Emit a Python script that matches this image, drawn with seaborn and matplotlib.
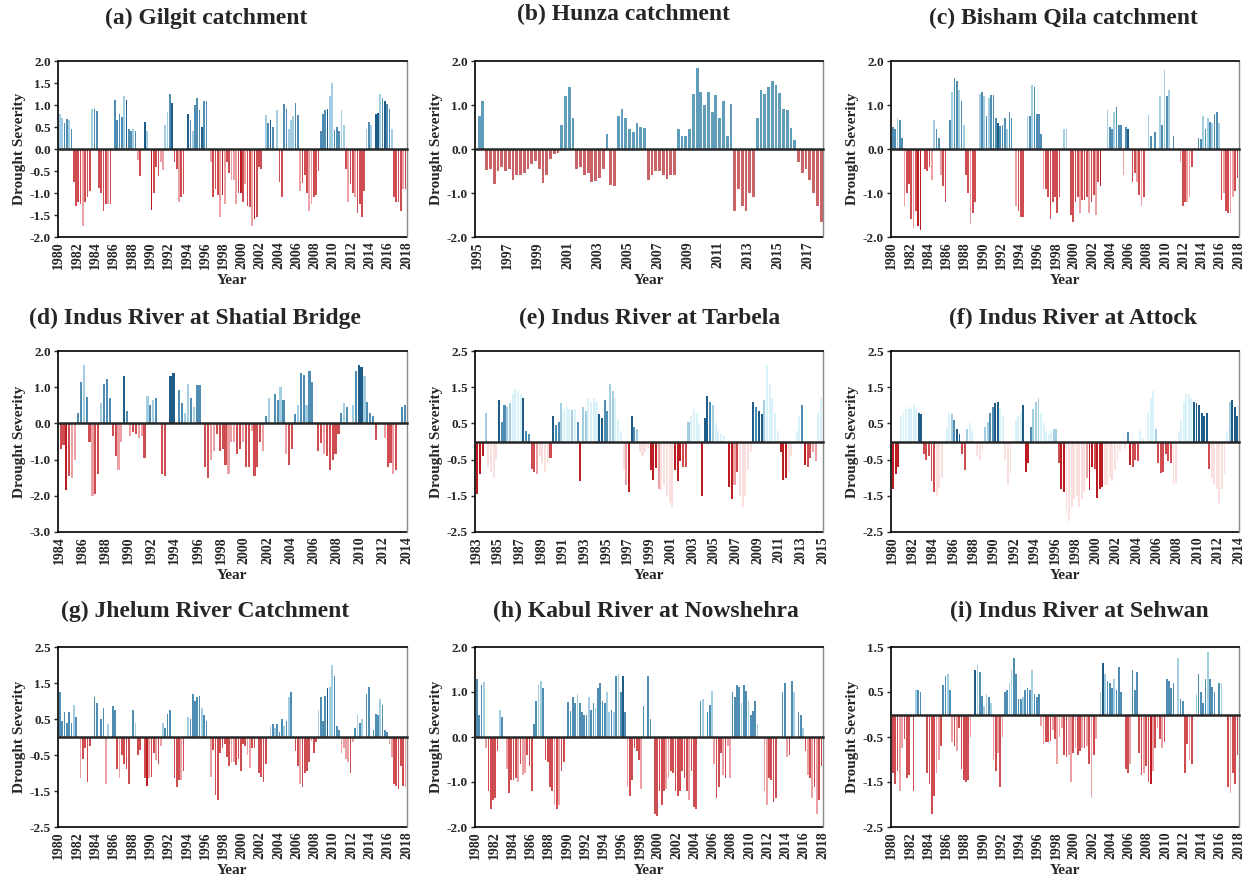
import numpy as np
import pandas as pd
import seaborn as sns
import matplotlib.pyplot as plt

# Quarterly drought severity, one row per year (Q1..Q4).
# Tone strings give the shade class of each bar (1 dark .. 4 very pale), one group per year.

gilgit_sev = [
    [0.80, 0.70, 0.60, 0.68], [0.65, 0.45, -0.75, -1.30], [-1.20, -1.25, -1.75, -1.20], [-1.10, -0.95, 0.90, 0.92],
    [0.87, -0.88, -1.00, -1.40], [-1.25, -1.25, -1.25, 0.00], [1.12, 0.65, 0.80, 0.72], [1.20, 1.12, 0.45, 0.42],
    [0.45, 0.40, -0.25, -0.62], [0.00, 0.62, 0.40, 0.00], [-1.38, -1.00, -0.40, -0.62], [-0.30, -0.48, 0.55, 0.85],
    [1.25, 1.05, -0.30, -0.45], [-1.20, -1.10, -1.02, 0.00], [0.80, 0.65, 0.40, 1.00], [1.15, 0.88, 0.50, 1.08],
    [1.08, 0.00, -0.30, -1.10], [-0.90, -1.05, -1.55, -1.05], [-1.25, -0.30, -0.55, -0.70], [-0.70, -1.25, -1.00, -1.00],
    [-1.20, -0.80, -1.30, -1.32], [-1.75, -1.60, -1.55, -0.40], [-0.45, 0.00, 0.78, 0.60], [0.65, 0.50, 0.00, 0.88],
    [-0.75, -1.10, 1.02, 0.92], [0.45, 0.65, 0.75, 1.05], [0.78, -0.95, -0.78, -0.60], [-1.00, -1.40, -1.25, -1.10],
    [-1.05, -0.50, 0.40, 0.80], [0.88, 0.90, 1.20, 1.50], [0.43, 0.50, 0.40, 0.88], [0.55, -0.45, -1.20, -0.80],
    [-1.00, -1.10, -1.45, -1.25], [-1.55, -0.95, 0.45, 0.62], [0.55, 0.00, 0.80, 0.82], [1.25, 1.15, 1.10, 1.02],
    [0.90, 0.45, -1.10, -1.20], [-1.20, -1.40, -0.90, -0.90],
]
gilgit_tone = ("3322 3222 2232 2232 2222 2322 2222 3122 3232 2132 1222 3333 2122 3222 1232 2212 2232 2231 3223 3321 "
               "2322 3122 2232 1223 2222 3332 2322 2332 2222 2133 2223 3232 2322 2232 3211 3212 2322 2232")

hunza_sev = [
    [0.75, 1.10, -0.48, -0.45], [-0.80, -0.50, -0.40, -0.50], [-0.45, -0.70, -0.60, -0.60], [-0.55, -0.45, -0.35, -0.28],
    [-0.45, -0.78, -0.60, -0.22], [-0.12, -0.10, 0.55, 1.20], [1.40, 0.70, -0.45, -0.40], [-0.60, -0.55, -0.75, -0.72],
    [-0.65, -0.45, 0.35, -0.82], [-0.85, 0.75, 0.90, 0.70], [0.45, 0.38, 0.58, 0.50], [0.48, -0.70, -0.60, -0.50],
    [-0.50, -0.60, -0.68, -0.60], [-0.58, 0.45, 0.30, 0.30], [0.45, 1.25, 1.85, 1.30], [1.00, 1.30, 0.85, 1.22],
    [0.70, 1.10, 0.30, 1.03], [-1.40, -0.90, -1.30, -1.40], [-1.00, -1.10, 0.70, 1.35], [1.25, 1.40, 1.55, 1.45],
    [1.28, 0.90, 0.88, 0.48], [0.20, -0.30, -0.55, -0.45], [-0.70, -1.00, -1.30, -1.65],
]
hunza_tone = "2222 " * 23

bisham_sev = [
    [0.50, 0.45, 0.70, 0.65], [0.25, -1.30, -1.00, -0.80], [-1.60, -1.80, -1.40, -1.75], [-1.85, 0.00, -0.45, -0.50],
    [-0.40, -0.70, 0.65, 0.45], [0.25, -0.60, -0.85, -1.20], [0.00, 0.65, 1.30, 1.62], [1.55, 1.35, 1.10, 0.55],
    [-0.60, -1.00, -1.70, -1.45], [-1.20, 0.00, 1.25, 1.30], [1.20, 0.75, 1.15, 1.22], [1.22, 0.70, 0.60, 0.52],
    [0.55, 0.70, 0.45, 0.85], [0.70, 0.00, -1.30, -1.40], [-1.55, -1.55, 0.00, 0.75], [0.75, 1.45, 1.40, 0.80],
    [0.80, 0.35, -0.90, -0.90], [-1.10, -1.60, -1.20, -1.10], [-1.45, -1.10, 0.00, 0.45], [0.45, 0.00, -1.50, -1.65],
    [-1.20, -1.10, -1.45, -1.15], [-1.15, -1.10, -1.45, -1.20], [-1.05, -1.50, -0.75, -0.85], [0.00, 0.00, 0.88, 0.50],
    [0.45, 0.85, 0.95, 0.55], [0.55, -0.60, 0.50, 0.45], [0.00, -0.75, -0.55, -0.75], [-1.05, -1.30, -1.10, 0.00],
    [0.78, 0.30, 0.00, 0.38], [0.00, 1.20, 0.55, 1.80], [1.20, 1.35, 0.00, 0.30], [0.00, 0.00, -0.30, -1.30],
    [-1.20, -1.20, -1.10, -0.40], [0.00, 0.00, 0.25, 0.22], [0.75, 0.45, 0.70, 0.62], [0.60, 0.80, 0.85, 0.60],
    [-1.15, -1.00, -1.40, -1.45], [-1.45, -1.10, -0.95, -0.65],
]
bisham_tone = ("2232 2322 2321 1222 2332 2322 2232 2323 2232 2232 3232 2212 2232 2232 2223 2322 2232 2222 2223 3222 "
               "2232 2232 2321 2232 2322 2321 2223 2322 3222 2323 2322 2232 2332 2222 3232 3223 2322 3322")

shatial_sev = [
    [-0.70, -0.60, -1.85, -1.45], [-1.50, -1.00, 0.30, 1.15], [1.60, 0.72, -0.50, -2.00], [-1.95, -1.40, 0.55, 1.10],
    [1.22, 0.70, -0.35, -0.90], [-1.30, -0.50, 1.30, 0.35], [-0.35, -0.25, -0.30, -0.40], [-0.35, -0.95, 0.75, 0.50],
    [0.65, 0.70, 0.00, -1.40], [-1.45, 0.00, 1.30, 1.40], [0.00, 0.92, 0.55, 0.30], [1.10, 0.70, 0.45, 1.05],
    [1.05, 0.00, -1.20, -1.50], [-1.00, -0.75, -0.30, -0.75], [-0.70, -1.15, -1.40, -0.50], [-0.50, -0.85, -0.70, -0.50],
    [-1.20, -1.20, -0.20, -1.45], [-1.20, -0.50, -0.75, 0.20], [0.70, 0.00, 0.80, 0.65], [1.00, 0.65, -0.85, -1.15],
    [-0.70, 0.25, 0.50, 1.40], [1.35, 0.50, 1.45, 1.15], [0.00, -0.75, -0.55, -0.85], [-0.90, -1.30, -1.00, -0.85],
    [-0.30, 0.30, 0.55, 0.45], [0.00, 0.50, 1.45, 1.60], [1.55, 1.30, 0.60, 0.30], [0.20, -0.45, 0.00, 0.00],
    [-0.40, -1.20, -1.10, -1.40], [-1.30, 0.00, 0.45, 0.50],
]
shatial_tone = ("2212 3322 3223 2232 2222 3312 3223 3232 3222 2211 2223 3232 2222 3322 2233 3223 2232 2232 3222 3232 "
                "2232 2322 2223 2222 2232 2321 1322 2222 3223 2222")

tarbela_sev = [
    [-1.45, -0.90, -0.40, 0.80], [-0.70, -0.85, -1.00, -0.50], [1.15, 0.55, 1.00, 0.95], [1.05, 1.30, 1.45, 1.40],
    [1.30, 1.20, 0.28, 0.20], [-0.75, -0.85, -0.90, -0.40], [-0.60, -0.85, -0.60, -0.45], [0.70, 0.45, 0.55, 1.05],
    [0.90, 0.95, 0.90, 0.88], [0.90, 0.55, -1.10, 0.95], [0.85, 1.20, 1.10, 1.20], [1.10, 0.75, 0.65, 1.15],
    [0.85, 1.60, 1.40, 1.20], [0.60, 0.30, -0.80, -1.20], [-1.40, 0.70, 0.40, 0.35], [-0.30, -0.40, -0.30, -0.20],
    [-0.80, -1.05, -0.72, -1.30], [-1.35, -1.20, -1.50, -1.70], [-1.80, -0.80, -1.10, -0.55], [-0.70, -0.70, 0.55, 0.70],
    [0.90, 0.80, 0.50, -1.50], [0.65, 1.25, 1.10, 1.00], [0.50, 0.30, 0.20, 0.15], [0.00, -1.25, -1.60, -1.20],
    [-0.85, -1.50, -1.80, -1.50], [-0.80, -0.30, 1.10, 0.95], [0.85, 0.75, 1.15, 2.10], [1.60, 1.20, 0.80, 0.30],
    [-0.30, -1.05, -1.00, -0.85], [-0.40, 0.00, 0.30, 0.70], [1.00, -0.65, -0.70, -0.45], [-0.30, -0.55, 0.80, 1.20],
]
tarbela_tone = ("1113 4444 1223 3444 4122 2234 4442 1223 4443 4213 3444 4112 2334 4443 1123 4444 1113 4444 4111 2234 "
                "4441 1123 4444 2113 2444 4412 1134 4444 1114 4444 2122 3344")

attock_sev = [
    [-1.30, -0.90, -0.70, 0.70], [0.85, 0.90, 0.95, 0.90], [1.00, 0.90, 0.80, 0.75], [-0.35, -0.50, -0.40, -1.10],
    [-1.40, -1.50, -1.30, -1.00], [0.00, 0.40, 0.80, 0.75], [0.60, 0.35, 0.20, -0.35], [-0.80, 0.35, 0.50, 0.30],
    [0.00, -0.40, -0.50, -0.30], [0.40, 0.55, 0.80, 0.95], [1.05, 1.08, 0.90, 0.70], [-0.50, -1.20, -0.90, 0.00],
    [0.60, 0.70, 0.80, 1.02], [-0.85, -0.60, 0.40, 0.90], [1.10, 1.20, 0.80, 0.50], [0.30, 0.20, 0.30, 0.35],
    [0.35, -0.60, -1.30, -1.40], [-2.00, -2.20, -1.80, -1.60], [-1.50, -1.80, -1.60, -1.40], [-1.00, -1.35, -0.70, -0.75],
    [-1.55, -1.30, -1.25, -1.20], [-1.20, -1.00, -1.10, -0.80], [-0.50, -0.30, 0.00, -0.20], [0.25, -0.65, -0.70, -0.50],
    [-0.55, 0.30, 0.10, 0.00], [0.80, 1.20, 1.40, 0.35], [-0.60, -0.88, -0.85, -0.35], [-0.55, -0.60, -1.20, -1.15],
    [0.30, 0.60, 1.10, 1.30], [1.30, 1.20, 1.10, 1.05], [1.00, 0.80, 0.70, 0.80], [-0.75, -1.00, -1.20, -1.30],
    [-1.70, -1.30, -0.90, 0.30], [1.10, 1.15, 0.95, 0.70],
]
attock_tone = ("1114 4444 4411 2222 2444 4443 2112 2344 4444 3322 1144 4444 4441 1123 3344 4443 3211 4444 4444 3112 "
               "1114 4444 4424 2122 2442 4443 2222 2244 4444 4411 1111 2444 4444 3111")

jhelum_sev = [
    [1.25, 0.45, 0.70, 0.40], [0.70, 0.40, 0.90, 0.55], [0.00, -1.15, -0.60, -0.30], [-1.25, -0.25, 0.00, 1.10],
    [0.95, 0.00, 0.50, 0.80], [-1.30, 0.35, 0.00, 0.85], [0.75, -0.90, -1.15, -0.50], [-0.75, -0.90, -1.30, 0.00],
    [0.75, 0.40, -0.50, -0.35], [0.00, -1.15, -1.35, -1.15], [-1.10, -0.45, -0.65, -0.75], [-0.25, 0.40, 0.25, 0.65],
    [0.75, 0.00, -1.15, -1.40], [-1.20, -1.20, -0.95, 0.00], [0.55, 0.50, 1.20, 1.00], [1.10, 1.15, 0.80, 0.60],
    [0.45, 0.00, -1.10, -0.35], [-1.60, -1.75, -0.45, -0.30], [-0.20, -0.55, -0.80, -0.70], [-0.70, -0.78, -0.60, -0.95],
    [-0.20, -0.25, -0.50, -0.85], [-0.30, -0.30, 0.00, -1.00], [-1.10, -1.25, -0.75, 0.00], [0.30, 0.35, 0.25, 0.35],
    [0.15, 0.50, 0.30, 0.45], [1.10, 1.25, 0.00, -0.40], [-0.80, -1.30, -1.40, -1.00], [-0.95, -0.70, -0.10, -0.45],
    [-0.15, 0.75, 1.10, 0.45], [1.15, 1.35, 1.40, 2.00], [1.70, 0.30, 0.20, -0.45], [-0.30, -0.60, -0.70, -1.00],
    [-0.15, 0.25, 0.60, 0.40], [0.50, 0.00, 1.20, 1.40], [0.00, 0.20, 0.65, 0.60], [1.05, 0.90, 0.20, 0.15],
    [-0.20, -0.55, -1.30, -1.35], [-1.45, -0.80, -1.35, -1.40],
]
jhelum_tone = ("2222 2232 2322 2222 2222 3322 2232 2222 2322 2213 2232 3322 2222 2322 3222 2232 2232 2222 2223 3222 "
               "2233 2222 2222 3232 2232 3222 2322 2232 2322 2133 2223 3332 3232 3222 2222 3222 3322 2223")

kabul_sev = [
    [1.28, 0.50, 1.15, 1.22], [-0.25, -1.20, -1.60, -1.40], [-1.35, -0.30, 0.60, 0.45], [0.00, -0.70, -1.25, -0.95],
    [-0.95, -0.90, -1.00, -0.60], [-0.85, -0.80, -0.40, -0.65], [-1.20, 0.30, 0.80, 1.15], [1.25, 1.08, -0.50, -0.55],
    [-1.10, -1.20, -1.50, -1.60], [-1.50, -0.75, -0.55, 0.00], [0.78, 0.58, 0.88, 0.75], [0.95, 0.75, 0.55, 0.50],
    [0.50, 0.90, 0.60, 0.75], [0.65, 1.10, 1.20, 0.80], [0.75, 1.00, 0.55, 0.60], [0.55, 1.35, 1.40, 1.00],
    [1.35, 0.55, -1.10, -1.30], [-0.95, -0.25, -0.30, -0.50], [-1.15, 0.68, 0.00, 1.35], [0.40, 0.00, -1.70, -1.75],
    [-1.20, -1.50, -1.20, -1.15], [-0.90, -0.75, -0.80, -1.20], [-1.30, -1.20, -0.75, -0.90], [-1.20, -1.40, -0.75, -1.55],
    [-1.60, 0.00, 0.80, 0.85], [0.00, 0.55, 0.72, 1.02], [-0.60, -1.35, -1.10, -0.35], [-0.85, -0.90, -0.20, -0.90],
    [1.00, 0.88, 1.15, 1.12], [0.75, 1.15, 1.02, 0.80], [0.50, 0.58, 0.80, 0.30], [0.00, 0.00, -1.20, -1.50],
    [-0.90, -0.95, -1.45, -1.35], [0.00, 0.00, 1.00, 1.20], [-0.45, -0.40, 1.25, 1.00], [0.00, 0.55, 0.50, 0.20],
    [-0.30, -0.85, -0.90, -1.35], [-1.10, -1.70, -1.40, -0.65],
]
kabul_tone = ("2223 3222 2232 2322 2232 3322 2223 3222 2232 3222 2222 3222 2322 3222 2332 3232 1232 2222 3222 2222 "
              "2223 3222 2222 2322 2223 2223 3222 3233 2222 3223 2223 2233 2222 2222 3223 2223 2323 2322")

sehwan_sev = [
    [-1.30, -1.55, -1.25, -1.70], [-0.75, -0.55, -1.40, -1.35], [-0.05, -1.70, 0.55, 0.55], [0.50, 0.00, 0.00, -1.30],
    [-1.55, -2.20, -1.80, -1.30], [-1.00, -0.70, 0.65, 0.85], [0.90, 0.55, -0.60, -0.70], [-0.80, -0.30, -1.20, -1.45],
    [-1.50, -1.45, -0.50, 0.00], [1.00, 1.10, 0.95, 0.42], [0.20, 0.45, 0.40, 0.25], [-1.00, -1.25, -0.85, -1.60],
    [-0.50, 0.50, 0.55, 0.70], [1.00, 1.25, 0.90, 0.35], [0.35, 0.40, 0.55, 0.60], [0.55, 1.00, 0.45, 0.40],
    [0.45, -0.25, -0.65, -0.60], [-0.60, -0.58, -0.35, -0.55], [-1.10, -0.50, -0.30, -0.90], [-0.95, -0.90, -1.50, -0.85],
    [-0.75, -0.90, -0.80, -0.75], [-0.75, -0.70, -1.10, -1.85], [-0.90, -0.55, 0.00, 0.50], [1.15, 0.90, 0.75, 0.70],
    [0.60, 0.80, 0.55, 1.05], [0.50, 0.00, -1.20, -1.30], [-1.10, 1.00, 0.55, 0.95], [-0.85, -1.35, -1.30, -1.15],
    [-1.50, -1.55, -1.25, -0.75], [-0.30, -0.55, -0.75, -0.60], [0.78, 0.75, 0.60, 0.70], [0.00, 1.25, 0.35, 0.30],
    [-1.30, -0.65, -1.00, -1.10], [0.00, 0.45, 0.90, 0.50], [0.25, 0.80, 1.40, 0.80], [0.62, 0.50, 0.00, 0.70],
    [0.70, 0.00, 0.00, -1.60], [-1.75, -1.30, -1.55, -0.90],
]
sehwan_tone = ("2223 3222 2232 2222 2223 3222 3232 3222 2232 1322 3323 3232 3223 3222 2322 2322 2332 2232 3332 2332 "
               "3223 2323 2323 1322 2322 2222 3222 2232 2132 3232 2222 2322 2232 2322 2232 2222 3222 3222")

titles = ["(a) Gilgit catchment", "(b) Hunza catchment", "(c) Bisham Qila catchment",
          "(d) Indus River at Shatial Bridge", "(e) Indus River at Tarbela", "(f) Indus River at Attock",
          "(g) Jhelum River Catchment", "(h) Kabul River at Nowshehra", "(i) Indus River at Sehwan"]
start_years = [1980, 1995, 1980, 1984, 1983, 1980, 1980, 1980, 1980]
label_end = [2018, 2017, 2018, 2014, 2015, 2014, 2018, 2018, 2018]
x_limits = [(1979.9, 2018.05), (1994.85, 2018.0), (1979.9, 2018.05),
            (1983.9, 2014.05), (1982.9, 2015.05), (1979.9, 2014.05),
            (1979.9, 2018.05), (1979.9, 2018.05), (1979.9, 2018.05)]
y_ticks = [
    [-2.0, -1.5, -1.0, -0.5, 0.0, 0.5, 1.0, 1.5, 2.0],
    [-2.0, -1.0, 0.0, 1.0, 2.0],
    [-2.0, -1.0, 0.0, 1.0, 2.0],
    [-3.0, -2.0, -1.0, 0.0, 1.0, 2.0],
    [-2.5, -1.5, -0.5, 0.5, 1.5, 2.5],
    [-2.5, -1.5, -0.5, 0.5, 1.5, 2.5],
    [-2.5, -1.5, -0.5, 0.5, 1.5, 2.5],
    [-2.0, -1.0, 0.0, 1.0, 2.0],
    [-2.5, -1.5, -0.5, 0.5, 1.5],
]
series = [(gilgit_sev, gilgit_tone), (hunza_sev, hunza_tone), (bisham_sev, bisham_tone),
          (shatial_sev, shatial_tone), (tarbela_sev, tarbela_tone), (attock_sev, attock_tone),
          (jhelum_sev, jhelum_tone), (kabul_sev, kabul_tone), (sehwan_sev, sehwan_tone)]

palette = {"p1": "#1f5d88", "p2": "#4f8db3", "p3": "#a3cde1", "p4": "#d9f1f9",
           "n1": "#bb1c22", "n2": "#cf4c51", "n3": "#eba0a3", "n4": "#fbdfdf"}
# Hunza is drawn in a single softer shade pair
hunza_palette = {"p2": "#5f9dbb", "n2": "#c96367"}


def make_frame(sev, tone, start):
    vals = [v for yr in sev for v in yr]
    tones = tone.replace(" ", "")
    if len(vals) != len(tones):
        raise ValueError("tone length mismatch")
    t = start + np.arange(len(vals)) / 4 + 0.125
    cls = [("p" if v >= 0 else "n") + k for v, k in zip(vals, tones)]
    return pd.DataFrame({"t": t, "sev": vals, "cls": cls})


sns.set_style("white")
plt.rcParams["font.family"] = ["Liberation Serif", "DejaVu Serif"]
plt.rcParams["axes.unicode_minus"] = False

W, H = 1244, 877
fig = plt.figure(figsize=(W / 100, H / 100), dpi=100)

col_px = [(58, 407), (475, 823), (891, 1239)]
row_px = [(61, 237), (351, 532), (647, 827)]
title_px = [(206, 18), (623, 14), (1063, 18),
            (195, 318), (650, 318), (1073, 318),
            (205, 611), (646, 611), (1079, 611)]

for i in range(9):
    r, c = divmod(i, 3)
    x0, x1 = col_px[c]
    y0, y1 = row_px[r]
    ax = fig.add_axes([x0 / W, 1 - y1 / H, (x1 - x0) / W, (y1 - y0) / H])

    sev, tone = series[i]
    df = make_frame(sev, tone, start_years[i])
    pal = hunza_palette if i == 1 else palette
    sns.barplot(data=df, x="t", y="sev", hue="cls", palette=pal, native_scale=True,
                dodge=False, width=0.75, errorbar=None, saturation=1, linewidth=0,
                legend=False, ax=ax)

    yt = y_ticks[i]
    ax.set_ylim(yt[0], yt[-1])
    ax.set_yticks(yt)
    ax.set_yticklabels([f"{v:.1f}" for v in yt], fontweight="bold", fontsize=9.5)
    ax.set_ylabel("Drought Severity", fontweight="bold", fontsize=11, labelpad=3)

    s = start_years[i]
    ax.set_xlim(*x_limits[i])
    xt = np.arange(s, label_end[i] + 1, 2)

    # zero line acts as the x axis with small downward ticks
    ax.spines["bottom"].set_position(("data", 0))
    ax.spines["bottom"].set_linewidth(1.8)
    ax.spines["bottom"].set_zorder(5)
    ax.set_xticks(xt)
    ax.tick_params(axis="x", direction="out", length=3, width=1.5, labelbottom=False)
    ax.set_xlabel("")
    ax.tick_params(axis="y", direction="out", length=3, width=1, left=True, pad=2)
    for side in ["left", "top"]:
        ax.spines[side].set_color("black")
        ax.spines[side].set_linewidth(1.2)
    ax.spines["right"].set_color("#8a8a8a")
    ax.spines["right"].set_linewidth(1.0)

    sec = ax.secondary_xaxis("bottom")
    sec.set_xticks(xt)
    sec.set_xticklabels([str(y) for y in xt], rotation=90, fontweight="bold", fontsize=10)
    sec.tick_params(length=0, pad=3)
    sec.spines["bottom"].set_linewidth(1.2)
    sec.spines["bottom"].set_color("black")
    sec.set_xlabel("Year", fontweight="bold", fontsize=11, labelpad=4)

    tx, ty = title_px[i]
    fig.text(tx / W, 1 - ty / H, titles[i], ha="center", va="center",
             fontsize=17, fontweight="bold")

fig.savefig("out.png", dpi=100)
